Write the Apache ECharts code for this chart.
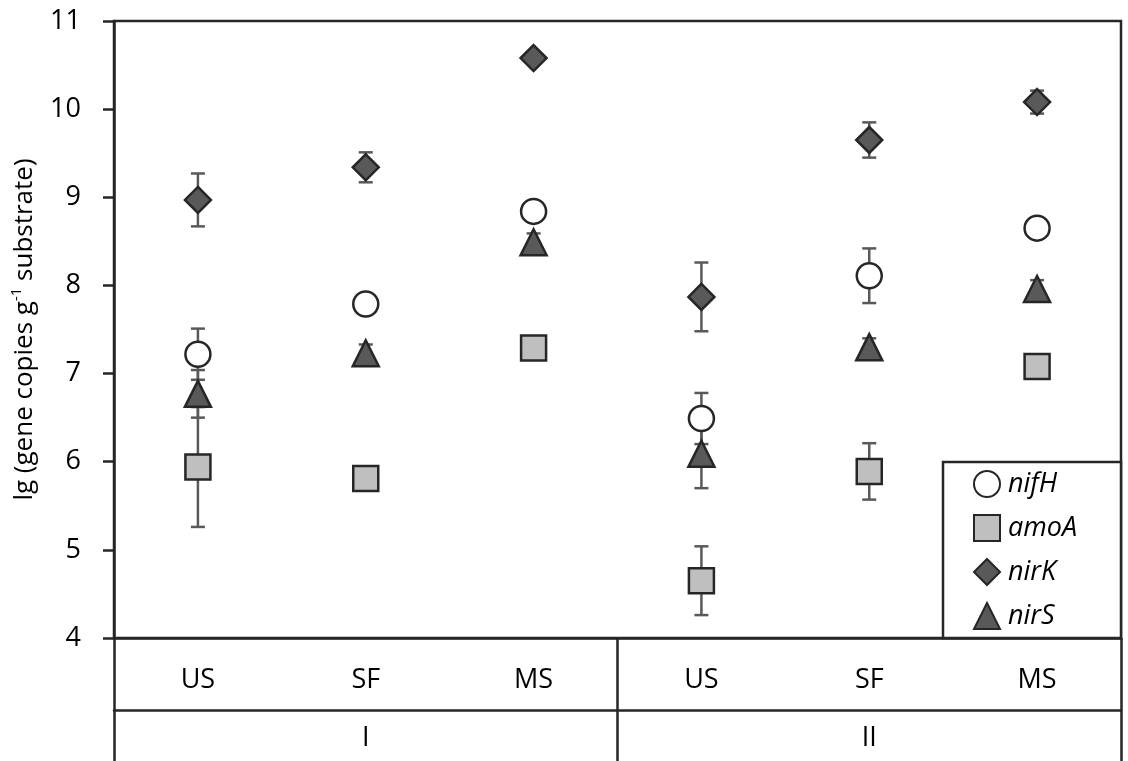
<!DOCTYPE html>
<html>
<head>
<meta charset="utf-8">
<script src="https://cdn.jsdelivr.net/npm/echarts@6/dist/echarts.min.js"></script>
<style>
html,body{margin:0;padding:0;background:#fff;}
#chart{width:1128px;height:761px;}
</style>
</head>
<body>
<div id="chart"></div>
<script>
const categories = ['US', 'SF', 'MS', 'US', 'SF', 'MS'];
const groups = ['I', 'II'];
const yTicks = [4, 5, 6, 7, 8, 9, 10, 11];
const nifH = [7.22, 7.79, 8.84, 6.49, 8.11, 8.65];
const nifHErr = [0.29, 0, 0, 0.29, 0.31, 0];
const amoA = [5.94, 5.81, 7.29, 4.65, 5.89, 7.08];
const amoAErr = [0.68, 0, 0, 0.39, 0.32, 0];
const nirK = [8.97, 9.34, 10.58, 7.87, 9.65, 10.08];
const nirKErr = [0.30, 0.17, 0, 0.39, 0.20, 0.13];
const nirS = [6.77, 7.23, 8.49, 6.09, 7.30, 7.96];
const nirSErr = [0.27, 0.10, 0.10, 0.39, 0.10, 0.10];

const FONT = 'Open Sans';
const DARK = '#262626';
const ERR = '#595959';

function errSeries(name, vals, errs) {
  return {
    type: 'custom',
    name: name + ' err',
    xAxisIndex: 0,
    z: 1,
    silent: true,
    encode: { x: 0, y: 1 },
    data: vals.map((v, i) => [i, v, errs[i]]),
    renderItem: function (params, api) {
      const x = api.value(0), m = api.value(1), e = api.value(2);
      if (!(e > 0)) return null;
      const hi = api.coord([x, m + e]);
      const lo = api.coord([x, m - e]);
      const w = 7;
      const st = { stroke: ERR, lineWidth: 2.5 };
      return {
        type: 'group',
        children: [
          { type: 'line', shape: { x1: hi[0], y1: hi[1], x2: lo[0], y2: lo[1] }, style: st },
          { type: 'line', shape: { x1: hi[0] - w, y1: hi[1], x2: hi[0] + w, y2: hi[1] }, style: st },
          { type: 'line', shape: { x1: lo[0] - w, y1: lo[1], x2: lo[0] + w, y2: lo[1] }, style: st }
        ]
      };
    }
  };
}

function markSeries(name, vals, symbol, size, fill) {
  return {
    type: 'scatter',
    name: name,
    xAxisIndex: 0,
    z: 3,
    symbol: symbol,
    symbolSize: size,
    itemStyle: { color: fill, borderColor: DARK, borderWidth: 2.5, opacity: 1 },
    data: vals
  };
}

const chart = echarts.init(document.getElementById('chart'));
chart.setOption({
  animation: false,
  backgroundColor: '#fff',
  textStyle: { fontFamily: FONT },
  grid: {
    left: 114, right: 7, top: 21, bottom: 123,
    containLabel: false,
    outerBoundsMode: 'none',
    show: true, borderColor: DARK, borderWidth: 2.5, backgroundColor: 'transparent'
  },
  xAxis: [
    {
      type: 'category',
      data: categories,
      position: 'bottom',
      boundaryGap: true,
      axisLine: { show: true, lineStyle: { color: DARK, width: 2.5 } },
      axisTick: {
        show: true, length: 72, lineStyle: { color: DARK, width: 2.5 },
        interval: function (i) { return i === 0 || i === 3; }
      },
      axisLabel: { fontFamily: FONT, fontSize: 27, lineHeight: 27, color: '#000', margin: 29, interval: 0 },
      splitLine: { show: false }
    },
    {
      type: 'category',
      data: groups,
      position: 'bottom',
      offset: 72,
      boundaryGap: true,
      axisLine: { show: true, lineStyle: { color: DARK, width: 2.5 } },
      axisTick: { show: true, length: 52, lineStyle: { color: DARK, width: 2.5 } },
      axisLabel: { fontFamily: FONT, fontSize: 27, lineHeight: 27, color: '#000', margin: 15, interval: 0 },
      splitLine: { show: false }
    }
  ],
  yAxis: {
    type: 'value',
    min: yTicks[0],
    max: yTicks[yTicks.length - 1],
    interval: 1,
    axisLine: { show: true, lineStyle: { color: DARK, width: 2.5 } },
    axisTick: { show: true, inside: false, length: 11, lineStyle: { color: DARK, width: 2.5 } },
    axisLabel: { fontFamily: FONT, fontSize: 27, color: '#000', margin: 33 },
    splitLine: { show: false },
    name: 'lg (gene copies g{sup|-1} substrate)',
    nameLocation: 'middle',
    nameGap: 73,
    nameRotate: 90,
    nameTextStyle: {
      fontFamily: FONT, fontSize: 26, color: '#000', lineHeight: 30,
      rich: {
        sup: { fontFamily: FONT, fontSize: 15, color: '#000', verticalAlign: 'top', lineHeight: 16 }
      }
    }
  },
  legend: {
    data: ['nifH', 'amoA', 'nirK', 'nirS'],
    orient: 'vertical',
    left: 973,
    top: 470,
    itemWidth: 26,
    itemHeight: 26,
    itemGap: 16,
    padding: 0,
    textStyle: { fontFamily: FONT, fontSize: 27, lineHeight: 26, fontStyle: 'italic', color: '#000', padding: [0, 0, 0, 3] },
    selectedMode: false,
    z: 10
  },
  graphic: [
    {
      type: 'rect',
      z: 5,
      shape: { x: 943, y: 462, width: 178, height: 176 },
      style: { fill: '#fff', stroke: DARK, lineWidth: 2.5 }
    }
  ],
  series: [
    errSeries('nifH', nifH, nifHErr),
    errSeries('amoA', amoA, amoAErr),
    errSeries('nirK', nirK, nirKErr),
    errSeries('nirS', nirS, nirSErr),
    markSeries('nifH', nifH, 'circle', 25, '#ffffff'),
    markSeries('amoA', amoA, 'rect', 25, '#bfbfbf'),
    markSeries('nirK', nirK, 'diamond', 26, '#595959'),
    markSeries('nirS', nirS, 'triangle', 26, '#595959')
  ]
});
</script>
</body>
</html>
